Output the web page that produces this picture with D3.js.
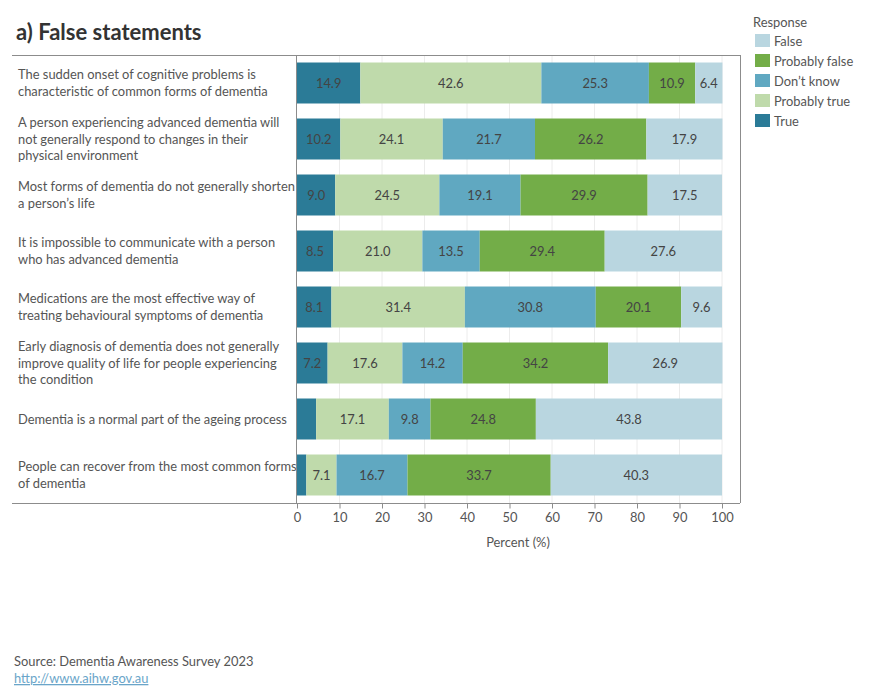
<!DOCTYPE html>
<html><head><meta charset="utf-8">
<script src="https://cdn.jsdelivr.net/npm/d3@7"></script>
<style>body{margin:0;background:#fff;font-family:Lato,"Open Sans",sans-serif;}</style>
</head><body>
<svg id="c" width="890" height="700"></svg>
<script>
const statements = [
  "The sudden onset of cognitive problems is|characteristic of common forms of dementia",
  "A person experiencing advanced dementia will|not generally respond to changes in their|physical environment",
  "Most forms of dementia do not generally shorten|a person’s life",
  "It is impossible to communicate with a person|who has advanced dementia",
  "Medications are the most effective way of|treating behavioural symptoms of dementia",
  "Early diagnosis of dementia does not generally|improve quality of life for people experiencing|the condition",
  "Dementia is a normal part of the ageing process",
  "People can recover from the most common forms|of dementia"
];
const responses = ["True","Probably true","Don't know","Probably false","False"];
const legendOrder = ["False","Probably false","Don’t know","Probably true","True"];
const trueVals         = [14.9, 10.2, 9.0, 8.5, 8.1, 7.2, 4.5, 2.2];
const probablyTrueVals = [42.6, 24.1, 24.5, 21.0, 31.4, 17.6, 17.1, 7.1];
const dontKnowVals     = [25.3, 21.7, 19.1, 13.5, 30.8, 14.2, 9.8, 16.7];
const probablyFalseVals= [10.9, 26.2, 29.9, 29.4, 20.1, 34.2, 24.8, 33.7];
const falseVals        = [6.4, 17.9, 17.5, 27.6, 9.6, 26.9, 43.8, 40.3];
const xTicks = [0,10,20,30,40,50,60,70,80,90,100];
const colors = {"True":"#2b7b97","Probably true":"#bfdaab","Don't know":"#60a8c1","Probably false":"#73ad48","False":"#b9d6e0"};
const legendColors = {"False":"#b9d6e0","Probably false":"#73ad48","Don’t know":"#60a8c1","Probably true":"#bfdaab","True":"#2b7b97"};
const hideLabel = [[],[],[],[],[],[],["True"],["True"]];

const series = [trueVals, probablyTrueVals, dontKnowVals, probablyFalseVals, falseVals];
const FS = 12.9;
const svg = d3.select("#c");
const x = d3.scaleLinear().domain([0,100]).range([297,722]);
const y = d3.scaleBand().domain(d3.range(statements.length)).range([55,503]).paddingInner(0.268).paddingOuter(0.134);

// gridlines
svg.append("g").selectAll("line").data(xTicks.slice(1)).join("line")
  .attr("x1",d=>x(d)).attr("x2",d=>x(d)).attr("y1",55).attr("y2",503)
  .attr("stroke","#ececec").attr("stroke-width",1);

// bars
statements.forEach((s,i)=>{
  let cum=0;
  responses.forEach((r,k)=>{
    const v = series[k][i];
    const x0 = x(cum), x1 = x(cum+v);
    svg.append("rect").attr("x",x0).attr("y",y(i)).attr("width",x1-x0).attr("height",y.bandwidth()).attr("fill",colors[r]);
    if(!hideLabel[i].includes(r)){
      svg.append("text").attr("x",(x0+x1)/2).attr("y",y(i)+y.bandwidth()/2).attr("dy","0.35em")
        .attr("text-anchor","middle").attr("font-size",FS).attr("fill","#444").text(v.toFixed(1));
    }
    cum+=v;
  });
  const lines = s.split("|");
  const cy = y(i)+y.bandwidth()/2;
  const lh = 16.3;
  lines.forEach((l,j)=>{
    svg.append("text").attr("x",18).attr("y",cy+(j-(lines.length-1)/2)*lh).attr("dy","0.35em")
      .attr("font-size",FS).attr("fill","#555").text(l);
  });
});

// frame lines
const fr = svg.append("g").attr("stroke","#8c8c8c").attr("stroke-width",1).attr("fill","none");
fr.append("line").attr("x1",12).attr("x2",740).attr("y1",55.5).attr("y2",55.5);
fr.append("line").attr("x1",12).attr("x2",740).attr("y1",503.5).attr("y2",503.5);
fr.append("line").attr("x1",740.5).attr("x2",740.5).attr("y1",55).attr("y2",503);
fr.append("line").attr("x1",296.5).attr("x2",296.5).attr("y1",55).attr("y2",503);

// x axis
const ax = svg.append("g").attr("transform","translate(0,503.5)")
  .call(d3.axisBottom(x).tickValues(xTicks).tickSize(5).tickPadding(4).tickFormat(d3.format("d")));
ax.select(".domain").remove();
ax.selectAll("line").attr("stroke","#8c8c8c");
ax.selectAll("text").attr("font-size",FS).attr("fill","#555").attr("font-family","Lato,'Open Sans',sans-serif");
svg.append("text").attr("x",518).attr("y",547).attr("text-anchor","middle").attr("font-size",FS).attr("fill","#555").text("Percent (%)");

// title
svg.append("text").attr("x",16).attr("y",40).attr("font-size",22).attr("font-weight",700).attr("fill","#333").text("a) False statements");

// legend
svg.append("text").attr("x",753).attr("y",27).attr("font-size",FS).attr("fill","#555").text("Response");
legendOrder.forEach((r,k)=>{
  const yy = 41 + k*20;
  svg.append("rect").attr("x",755).attr("y",yy-7).attr("width",15).attr("height",13).attr("fill",legendColors[r]);
  svg.append("text").attr("x",774).attr("y",yy).attr("dy","0.35em").attr("font-size",FS).attr("fill","#555").text(r);
});

// source
svg.append("text").attr("x",14).attr("y",666).attr("font-size",FS).attr("fill","#555").text("Source: Dementia Awareness Survey 2023");
svg.append("text").attr("x",14).attr("y",683).attr("font-size",FS).attr("fill","#6aa5c9").attr("text-decoration","underline").text("http://www.aihw.gov.au");
</script>
</body></html>
